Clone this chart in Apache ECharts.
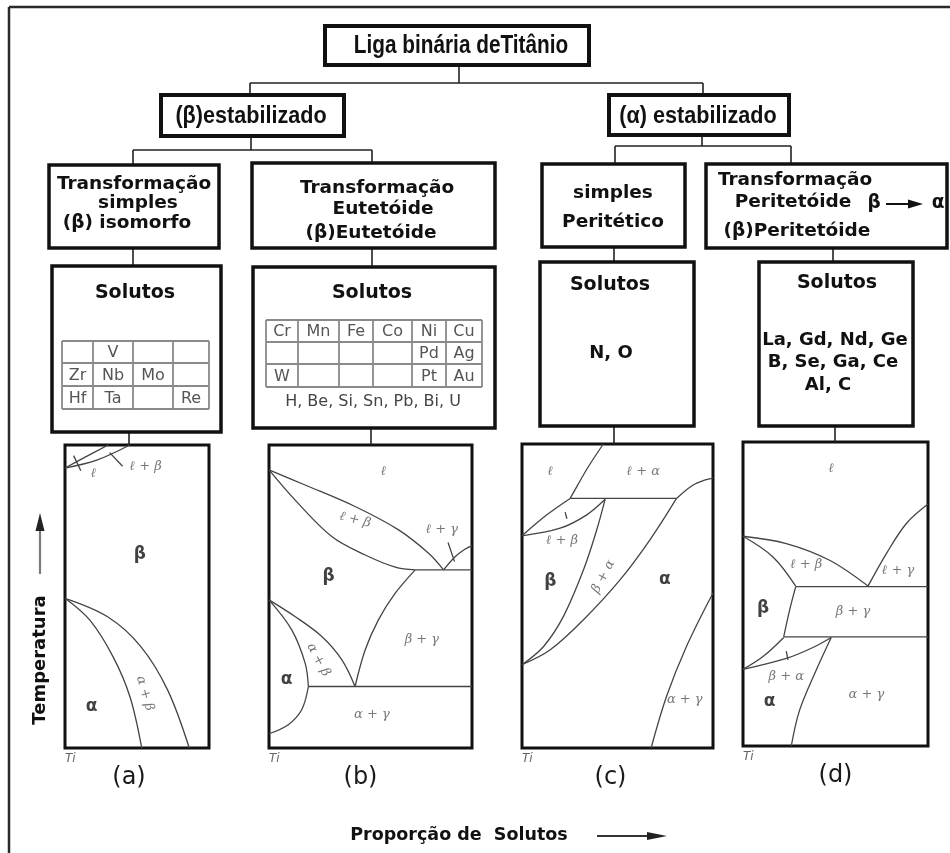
<!DOCTYPE html>
<html>
<head>
<meta charset="utf-8">
<script src="https://cdn.jsdelivr.net/npm/echarts@6/dist/echarts.min.js"></script>
<style>
  html, body { margin: 0; padding: 0; background: #fff; }
  #chart { width: 950px; height: 853px; }
</style>
</head>
<body>
<div id="chart"></div>
<script>
// ---------- text content ----------
const rootLabel = 'Liga binária deTitânio';
const branchLabels = ['(β)estabilizado', '(α) estabilizado'];
const transformLabels = [
  ['Transformação', 'simples', '(β) isomorfo'],
  ['Transformação', 'Eutetóide', '(β)Eutetóide'],
  ['simples', 'Peritético'],
  ['Transformação', 'Peritetóide', '(β)Peritetóide']
];
const reactionFrom = 'β';
const reactionTo = 'α';
const soluteHeading = 'Solutos';
const isomorphousTable = [
  ['', 'V', '', ''],
  ['Zr', 'Nb', 'Mo', ''],
  ['Hf', 'Ta', '', 'Re']
];
const eutectoidTable = [
  ['Cr', 'Mn', 'Fe', 'Co', 'Ni', 'Cu'],
  ['', '', '', '', 'Pd', 'Ag'],
  ['W', '', '', '', 'Pt', 'Au']
];
const eutectoidExtra = 'H, Be, Si, Sn, Pb, Bi, U';
const peritecticSolutes = ['N, O'];
const peritectoidSolutes = ['La, Gd, Nd, Ge', 'B, Se, Ga, Ce', 'Al, C'];
const panelNames = ['(a)', '(b)', '(c)', '(d)'];
const originLabel = 'Ti';
const temperatureTitle = 'Temperatura';
const compositionTitle = 'Proporção de  Solutos';

// ---------- phase boundaries: [solute content 0-100, temperature 0-100] ----------
// (a) beta isomorphous
const aLiquidus = [[0, 92.4], [14, 96], [30, 100]];
const aSolidus = [[0, 92.4], [22, 95], [45, 100]];
const aAlphaSolvus = [[0, 49.4], [17.4, 42.1], [33.5, 30], [45.1, 16.9], [53.3, 0]];
const aBetaTransus = [[0, 49.4], [29.6, 43.3], [52.8, 33.4], [71.3, 19.1], [86.3, 0]];
const aLeaders = [[[6, 96.5], [11, 91.5]], [[31, 97.5], [40, 93]]];
const aPhaseLabels = [['ℓ', 19.7, 90.5, 0], ['ℓ + β', 56, 93, 0], ['α + β', 55.5, 18, -74]];
const aBoldLabels = [['β', 52, 63.7], ['α', 18.5, 13.6]];

// (b) beta eutectoid
const bLiquidus = [[0, 91.8], [17.8, 86.8], [42.4, 79.7], [63.8, 72.0], [78.6, 64.3], [86, 58.8]];
const bSolidus = [[0, 91.8], [12.8, 81.9], [30.9, 69.8], [47.4, 63.7], [62.2, 59.7], [72, 58.8]];
const bEutectic = [[72, 58.8], [100, 58.8]];
const bGammaLiquidus = [[86, 58.8], [91.8, 63.2], [96.5, 65.6], [100, 66.8]];
const bLeaders = [[[88.2, 67.8], [91.4, 61.5]]];
const bBetaGamma = [[72, 58.8], [62.2, 51.1], [53.9, 42.3], [47.4, 32.4], [42.4, 20.3]];
const bBetaTransus = [[0, 48.9], [12.8, 43.4], [26, 36.8], [35.9, 29.1], [42.4, 20.3]];
const bAlphaUpper = [[0, 48.9], [11.2, 39.0], [17.8, 28.0], [19.4, 20.3]];
const bAlphaLower = [[19.4, 20.3], [16.1, 12.6], [9.5, 7.7], [0, 4.7]];
const bEutectoid = [[19.4, 20.3], [100, 20.3]];
const bPhaseLabels = [
  ['ℓ', 56.4, 91.2, 0], ['ℓ + β', 42.4, 75.3, -14], ['ℓ + γ', 85.2, 72.0, 0],
  ['β + γ', 75.3, 35.7, 0], ['α + β', 24.3, 29.1, -62], ['α + γ', 50.7, 11.0, 0]
];
const bBoldLabels = [['β', 29.3, 56.6], ['α', 8.7, 22.5]];

// (c) simple peritectic
const cLiquidus = [[42.6, 100], [34.8, 92.6], [28.7, 86.0], [25.2, 82.1]];
const cPeritectic = [[25.2, 82.1], [80.9, 82.1]];
const cAlphaLiquidus = [[80.9, 82.1], [89.6, 86.5], [96, 88.2], [100, 88.8]];
const cBetaLiquidus = [[0, 69.8], [13.0, 76.7], [25.2, 82.1]];
const cBetaSolidus = [[0, 69.8], [20, 72.3], [33.9, 76.7], [43.5, 81.8]];
const cLeaders = [[[22.6, 77.6], [23.5, 75.4]]];
const cBetaBoundary = [[43.5, 81.8], [39.1, 71.7], [32.2, 58.6], [21.7, 43.3], [11.3, 33.4], [0, 27.4]];
const cAlphaBoundary = [[80.9, 82.1], [67, 68.5], [51.3, 55.3], [32.2, 42.2], [14.8, 32.3], [0, 27.4]];
const cGammaSolvus = [[100, 51], [86.1, 33.4], [75.7, 17.0], [67.6, 0]];
const cPhaseLabels = [
  ['ℓ', 14.8, 90.9, 0], ['ℓ + α', 63.5, 90.9, 0], ['ℓ + β', 20.9, 68.3, 0],
  ['β + α', 42.6, 56.4, 62], ['α + γ', 85.2, 15.9, 0]
];
const cBoldLabels = [['β', 14.8, 54.8], ['α', 74.8, 55.3]];

// (d) beta peritectoid
const dLiquidus = [[0, 69], [23.4, 66.6], [46.8, 61.1], [67.6, 52.6]];
const dSolidus = [[0, 69], [16.2, 62.2], [28.5, 52.6]];
const dUpperLine = [[28.5, 52.4], [100, 52.4]];
const dGammaLiquidus = [[67.6, 52.6], [77.5, 63.3], [88.3, 73.2], [100, 79.6]];
const dBetaEdge = [[28.5, 52.4], [25.2, 44.7], [22, 35.9]];
const dLowerLine = [[22, 35.9], [100, 35.9]];
const dBetaLower = [[0, 25.2], [11, 29.5], [22, 35.7]];
const dAlphaUpper = [[0, 25.2], [23.4, 28.8], [37.8, 32.4], [47.7, 35.7]];
const dLeaders = [[[23.4, 31.2], [24.3, 28.3]]];
const dAlphaBoundary = [[47.7, 35.7], [39.6, 25], [30.6, 11.8], [26.1, 0]];
const dPhaseLabels = [
  ['ℓ', 47.7, 91.2, 0], ['ℓ + β', 34.2, 59.5, 0], ['ℓ + γ', 83.8, 57.8, 0],
  ['β + γ', 59.5, 44.1, 0], ['β + α', 23.4, 22.8, 0], ['α + γ', 66.7, 16.8, 0]
];
const dBoldLabels = [['β', 10.8, 45.2], ['α', 14.4, 14.6]];

// ---------- layout ----------
const panelRects = [
  { left: 65, top: 445, width: 144, height: 303 },
  { left: 269, top: 445, width: 203, height: 303 },
  { left: 522, top: 444, width: 191, height: 304 },
  { left: 743, top: 442, width: 185, height: 304 }
];
const panelNameShift = [16, 20, 14, 0];

const panelCurves = [
  [aLiquidus, aSolidus, aAlphaSolvus, aBetaTransus, ...aLeaders],
  [bLiquidus, bSolidus, bEutectic, bGammaLiquidus, ...bLeaders, bBetaGamma, bBetaTransus, bAlphaUpper, bAlphaLower, bEutectoid],
  [cLiquidus, cPeritectic, cAlphaLiquidus, cBetaLiquidus, cBetaSolidus, ...cLeaders, cBetaBoundary, cAlphaBoundary, cGammaSolvus],
  [dLiquidus, dSolidus, dUpperLine, dGammaLiquidus, dBetaEdge, dLowerLine, dBetaLower, dAlphaUpper, ...dLeaders, dAlphaBoundary]
];
const panelPhaseLabels = [aPhaseLabels, bPhaseLabels, cPhaseLabels, dPhaseLabels];
const panelBoldLabels = [aBoldLabels, bBoldLabels, cBoldLabels, dBoldLabels];

const INK = '#111';
const BOLD = '"DejaVu Sans", "Liberation Sans", sans-serif';
const ARIAL = '"Liberation Sans", Arial, sans-serif';

const grids = [], xAxes = [], yAxes = [], series = [];
panelRects.forEach((r, i) => {
  grids.push(Object.assign({
    show: true, borderColor: INK, borderWidth: 3, backgroundColor: '#fff'
  }, r));
  xAxes.push({
    gridIndex: i, type: 'value', min: 0, max: 100, interval: 100,
    axisLine: { show: false }, axisTick: { show: false }, splitLine: { show: false },
    axisLabel: {
      formatter: v => (v === 0 ? originLabel : ''), align: 'left', margin: 5,
      fontFamily: BOLD, fontStyle: 'italic', fontSize: 12, color: '#666'
    },
    name: panelNames[i], nameLocation: 'middle', nameGap: 13,
    nameTextStyle: {
      fontFamily: BOLD, fontSize: 24, color: '#1a1a1a',
      padding: [0, panelNameShift[i], 0, 0]
    }
  });
  yAxes.push({ gridIndex: i, type: 'value', min: 0, max: 100, show: false });

  panelCurves[i].forEach(pts => {
    series.push({
      type: 'line', xAxisIndex: i, yAxisIndex: i, data: pts,
      smooth: pts.length > 2 ? 0.35 : false, symbol: 'none', silent: true,
      lineStyle: { color: '#444', width: 1.3 }, z: 3
    });
  });
  series.push({
    type: 'scatter', xAxisIndex: i, yAxisIndex: i, symbolSize: 1, silent: true,
    itemStyle: { color: 'rgba(0,0,0,0)' },
    data: panelPhaseLabels[i].map(l => ({ name: l[0], value: [l[1], l[2]], label: { rotate: l[3] } })),
    label: {
      show: true, position: 'inside', formatter: '{b}',
      fontFamily: '"DejaVu Serif", serif', fontStyle: 'italic', fontSize: 13, color: '#555'
    }, z: 4
  });
  series.push({
    type: 'scatter', xAxisIndex: i, yAxisIndex: i, symbolSize: 1, silent: true,
    itemStyle: { color: 'rgba(0,0,0,0)' },
    data: panelBoldLabels[i].map(l => ({ name: l[0], value: [l[1], l[2]] })),
    label: {
      show: true, position: 'inside', formatter: '{b}',
      fontFamily: BOLD, fontWeight: 'bold', fontSize: 17, color: INK
    }, z: 4
  });
});

// ---------- flowchart drawn with graphic elements ----------
const g = [];
function box(x, y, w, h, lw) {
  g.push({ type: 'rect', shape: { x, y, width: w, height: h },
    style: { fill: '#fff', stroke: INK, lineWidth: lw }, z: 10 });
}
function seg(x1, y1, x2, y2, lw, color, z) {
  g.push({ type: 'line', shape: { x1, y1, x2, y2 },
    style: { stroke: color || '#222', lineWidth: lw || 1.6 }, z: z || 9 });
}
function txt(s, x, y, font, color, extra) {
  g.push(Object.assign({ type: 'text', x, y, z: 12,
    style: { text: s, x: 0, y: 0, font, fill: color || INK, align: 'center', verticalAlign: 'middle' } }, extra || {}));
}
function table(rows, colEdges, rowEdges, font) {
  const x0 = colEdges[0], x1 = colEdges[colEdges.length - 1];
  const y0 = rowEdges[0], y1 = rowEdges[rowEdges.length - 1];
  rowEdges.forEach(y => seg(x0, y, x1, y, 1.8, '#8a8a8a', 11));
  colEdges.forEach(x => seg(x, y0, x, y1, 1.8, '#8a8a8a', 11));
  rows.forEach((row, r) => row.forEach((c, k) => {
    if (c) txt(c, (colEdges[k] + colEdges[k + 1]) / 2, (rowEdges[r] + rowEdges[r + 1]) / 2 + 1, font, '#555');
  }));
}

// outer frame
seg(9, 7, 950, 7, 2.5, '#2a2a2a');
seg(9, 7, 9, 853, 2.5, '#2a2a2a');

// connectors
seg(459, 65, 459, 83); seg(250, 83, 703, 83); seg(250, 83, 250, 95); seg(703, 83, 703, 95);
seg(251, 136, 251, 150); seg(133, 150, 372, 150); seg(133, 150, 133, 165); seg(372, 150, 372, 163);
seg(702, 135, 702, 146); seg(615, 146, 791, 146); seg(615, 146, 615, 164); seg(791, 146, 791, 164);
seg(133, 248, 133, 266); seg(372, 248, 372, 267); seg(614, 247, 614, 262); seg(833, 248, 833, 262);
seg(129, 432, 129, 445); seg(371, 428, 371, 445); seg(614, 426, 614, 444); seg(835, 426, 835, 442);

// top levels
box(325, 26, 264, 39, 4);
txt(rootLabel, 461, 46, 'bold 26px ' + ARIAL, INK, { scaleX: 0.8 });
box(161, 95, 183, 41, 4);
txt(branchLabels[0], 251, 116, 'bold 24px ' + ARIAL, INK, { scaleX: 0.9 });
box(609, 95, 180, 40, 4);
txt(branchLabels[1], 698, 116, 'bold 24px ' + ARIAL, INK, { scaleX: 0.9 });

// transformation boxes
const l3Boxes = [[49, 165, 170, 83], [252, 163, 243, 85], [542, 164, 143, 83], [706, 164, 241, 84]];
const l3LinePos = [
  [[134, 184], [138, 203], [127, 223]],
  [[377, 188], [383, 209], [371, 233]],
  [[613, 193], [613, 222]],
  [[795, 180], [793, 202], [797, 231]]
];
const F18 = 'bold 18.5px ' + BOLD;
l3Boxes.forEach(b => box(b[0], b[1], b[2], b[3], 3.5));
transformLabels.forEach((lines, i) => lines.forEach((s, k) => txt(s, l3LinePos[i][k][0], l3LinePos[i][k][1], F18)));
txt(reactionFrom, 874, 203, F18);
seg(886, 204, 912, 204, 2, INK, 12);
g.push({ type: 'polygon', shape: { points: [[923, 204], [908, 199.5], [908, 208.5]] }, style: { fill: INK }, z: 12 });
txt(reactionTo, 938, 203, F18);

// solute boxes
const l4Boxes = [[52, 266, 169, 166], [253, 267, 242, 161], [540, 262, 154, 164], [759, 262, 154, 164]];
const headingPos = [[135, 293], [372, 293], [610, 285], [837, 283]];
l4Boxes.forEach(b => box(b[0], b[1], b[2], b[3], 3.5));
headingPos.forEach(p => txt(soluteHeading, p[0], p[1], 'bold 19px ' + BOLD));
const CELL = '16px ' + BOLD;
table(isomorphousTable, [62, 93, 133, 173, 209], [341, 363, 386, 409], CELL);
table(eutectoidTable, [266, 298, 339, 373, 412, 446, 482], [320, 342, 364, 387], CELL);
txt(eutectoidExtra, 373, 402, CELL, '#444');
txt(peritecticSolutes[0], 611, 353, 'bold 18px ' + BOLD);
[[835, 340], [833, 362], [828, 385]].forEach((p, k) => txt(peritectoidSolutes[k], p[0], p[1], 'bold 18px ' + BOLD));

// axis titles with arrows
txt(temperatureTitle, 40, 660, 'bold 18px ' + BOLD, INK, { rotation: Math.PI / 2 });
seg(40, 574, 40, 528, 2.2, '#7a7a7a');
g.push({ type: 'polygon', shape: { points: [[40, 513], [35.5, 531], [44.5, 531]] }, style: { fill: '#222' }, z: 12 });
txt(compositionTitle, 459, 835, 'bold 17.5px ' + BOLD);
seg(597, 836, 650, 836, 2, '#333');
g.push({ type: 'polygon', shape: { points: [[667, 836], [647, 832], [647, 840]] }, style: { fill: '#222' }, z: 12 });

const chart = echarts.init(document.getElementById('chart'), null, { renderer: 'canvas' });
chart.setOption({
  animation: false,
  backgroundColor: '#fff',
  grid: grids,
  xAxis: xAxes,
  yAxis: yAxes,
  series: series,
  graphic: { elements: g }
});
</script>
</body>
</html>
